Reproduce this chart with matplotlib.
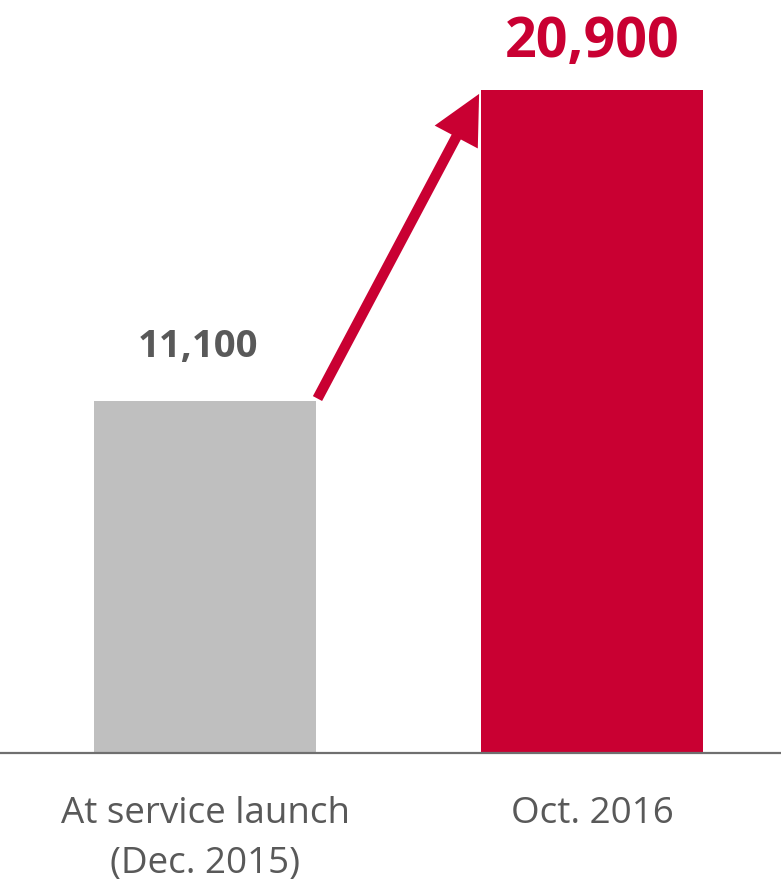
import matplotlib.pyplot as plt

# dados
categorias = ['At service launch\n(Dec. 2015)', 'Oct. 2016']
valores = [11100, 20900]
rotulos = ['11,100', '20,900']
cores = ['#BFBFBF', '#C90032']

plt.rcParams['font.family'] = ['Open Sans', 'DejaVu Sans']

fig = plt.figure(figsize=(7.81, 8.80), dpi=100)
ax = fig.add_axes([0, 0.1443, 1, 0.8557])

largura = 0.574
x = range(len(valores))
ax.bar(x, valores, width=largura, color=cores, zorder=2)

ax.set_xlim(-0.53, 1.488)
ax.set_ylim(0, 23745)

# rótulos de valor
ax.text(-0.018, valores[0] + 1100, rotulos[0], ha='center', va='bottom',
        fontsize=27.5, fontweight='bold', color='#595959')
ax.text(1, valores[1] + 650, rotulos[1], ha='center', va='bottom',
        fontsize=40, fontweight='bold', color=cores[1])

# seta de crescimento
ax.annotate('', xy=(1 - largura / 2, valores[1]), xytext=(largura / 2, valores[0]),
            arrowprops=dict(arrowstyle='-|>,head_length=2.3,head_width=1.15',
                            color=cores[1], lw=7.5, shrinkA=2, shrinkB=3,
                            joinstyle='miter', capstyle='butt'),
            zorder=3)

# eixos
for lado in ['top', 'right', 'left']:
    ax.spines[lado].set_visible(False)
ax.spines['bottom'].set_color('#6F6F6F')
ax.spines['bottom'].set_linewidth(1.6)
ax.set_yticks([])
ax.set_xticks(list(x))
ax.set_xticklabels(categorias, fontsize=26.5, color='#595959', linespacing=1.5)
ax.tick_params(axis='x', length=0, pad=31)

fig.savefig('out.png', dpi=100)
